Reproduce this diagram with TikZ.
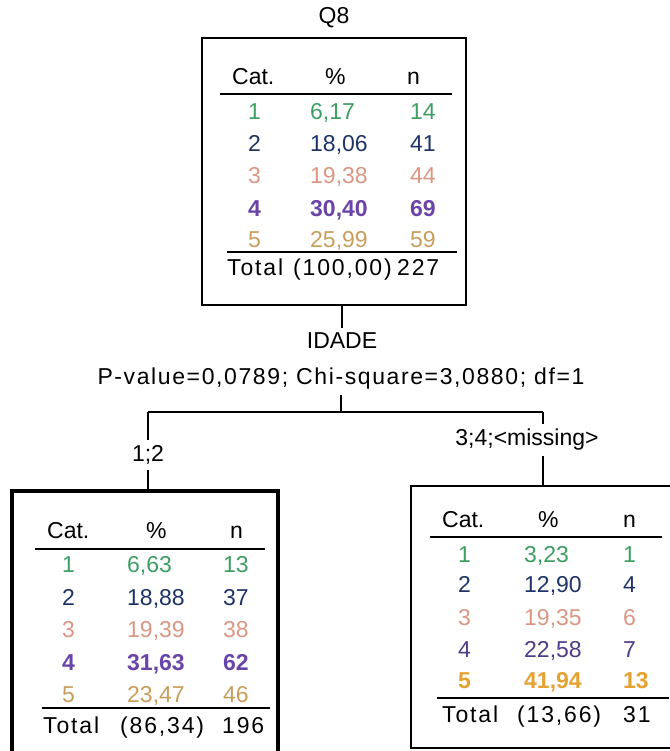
\documentclass[tikz,border=0pt]{standalone}
\usepackage{fontspec}
\setmainfont{Liberation Sans}
\definecolor{catA}{HTML}{3E9E62}
\definecolor{catB}{HTML}{1E3468}
\definecolor{catC}{HTML}{DC9684}
\definecolor{catD}{HTML}{6A44A8}
\definecolor{catDd}{HTML}{4E3C88}
\definecolor{catE}{HTML}{C89E5C}
\definecolor{catEb}{HTML}{E4A232}
% one table row: baseline y, left x of the three columns, colour, font switch, three texts
\newcommand\catrow[9]{%
  \node[txt, text=#5, font=\fontsize{23}{26}\selectfont#6] at (#2,#1) {#7};
  \node[txt, text=#5, font=\fontsize{23}{26}\selectfont#6] at (#3,#1) {#8};
  \node[txt, text=#5, font=\fontsize{23}{26}\selectfont#6] at (#4,#1) {#9};}
\begin{document}
\begin{tikzpicture}[x=1pt,y=-1pt,
  txt/.style={font=\fontsize{23}{26}\selectfont, inner sep=0pt, anchor=base west},
  wide/.style={font=\fontsize{23}{26}\selectfont\addfontfeature{LetterSpace=8}},
  lbl/.style={font=\fontsize{23}{26}\selectfont, inner sep=5pt},
  nodebox/.style={draw, line width=2pt, inner sep=0pt},
  selbox/.style={draw, line width=3.5pt, inner sep=0pt},
  rule/.style={line width=2pt},
  link/.style={line width=1.8pt}]
\useasboundingbox (0,0) rectangle (669,751);

% ---------- root node ----------
\node[lbl] (title) at (334,18) {Q8};
\node[nodebox, minimum width=264pt, minimum height=267pt] (root) at (334,171.5) {};
\node[txt] (r-h1) at (232,85) {Cat.};
\node[txt] (r-h2) at (325,85) {\%};
\node[txt] (r-h3) at (407,85) {n};
\draw[rule] (220,94) -- (452,94);
\catrow{120}{248}{310}{410}{catA}{}{1}{6,17}{14}
\catrow{152}{248}{310}{410}{catB}{}{2}{18,06}{41}
\catrow{184}{248}{310}{410}{catC}{}{3}{19,38}{44}
\catrow{216}{248}{310}{410}{catD}{\bfseries}{4}{30,40}{69}
\catrow{247}{248}{310}{410}{catE}{}{5}{25,99}{59}
\draw[rule] (227,252) -- (457,252);
\node[txt, wide] (r-t1) at (227,275) {Total};
\node[txt, wide] (r-t2) at (293,275) {(100,00)};
\node[txt, wide] (r-t3) at (397,275) {227};

% ---------- split ----------
\node[lbl] (var) at (342,341) {IDADE};
\node[lbl] (stats) at (341,379) {\addfontfeature{LetterSpace=7}P-value=0,0789; Chi-square=3,0880; df=1};
\draw[link] (root.south -| var) -- (var.north);
\coordinate (lb) at (148,412);
\coordinate (rb) at (543,412);
\draw[link] (lb) -- (rb);
\draw[link] (stats.south) -- (stats.south |- lb);

\node[lbl] (lab1) at (148,455) {1;2};
\node[lbl] (lab2) at (527,440) {3;4;<missing>};

% ---------- left child ----------
\node[selbox, minimum width=266pt, minimum height=280pt] (left) at (145,631) {};
\draw[link] (lb) -- (lb |- lab1.north);
\draw[link] (lab1.south) -- (lab1.south |- left.north);
\node[txt] at (47,538) {Cat.};
\node[txt] at (146,538) {\%};
\node[txt] at (230,538) {n};
\draw[rule] (35,549) -- (265,549);
\catrow{572}{62}{127}{223}{catA}{}{1}{6,63}{13}
\catrow{605}{62}{127}{223}{catB}{}{2}{18,88}{37}
\catrow{637}{62}{127}{223}{catC}{}{3}{19,39}{38}
\catrow{670}{62}{127}{223}{catD}{\bfseries}{4}{31,63}{62}
\catrow{702}{62}{127}{223}{catE}{}{5}{23,47}{46}
\draw[rule] (42,708) -- (270,708);
\node[txt, wide] at (43,733) {Total};
\node[txt, wide] at (120,733) {(86,34)};
\node[txt, wide] at (222,733) {196};

% ---------- right child ----------
\node[nodebox, minimum width=270pt, minimum height=262pt] (right) at (546,617) {};
\draw[link] (rb) -- (rb |- lab2.north);
\draw[link] (rb |- lab2.south) -- (rb |- right.north);
\node[txt] at (442,527) {Cat.};
\node[txt] at (538,527) {\%};
\node[txt] at (623,527) {n};
\draw[rule] (430,537) -- (662,537);
\catrow{562}{458}{524}{623}{catA}{}{1}{3,23}{1}
\catrow{592}{458}{524}{623}{catB}{}{2}{12,90}{4}
\catrow{625}{458}{524}{623}{catC}{}{3}{19,35}{6}
\catrow{657}{458}{524}{623}{catDd}{}{4}{22,58}{7}
\catrow{688}{458}{524}{623}{catEb}{\bfseries}{5}{41,94}{13}
\draw[rule] (437,698) -- (669,698);
\node[txt, wide] at (442,722) {Total};
\node[txt, wide] at (517,722) {(13,66)};
\node[txt, wide] at (623,722) {31};
\end{tikzpicture}
\end{document}
